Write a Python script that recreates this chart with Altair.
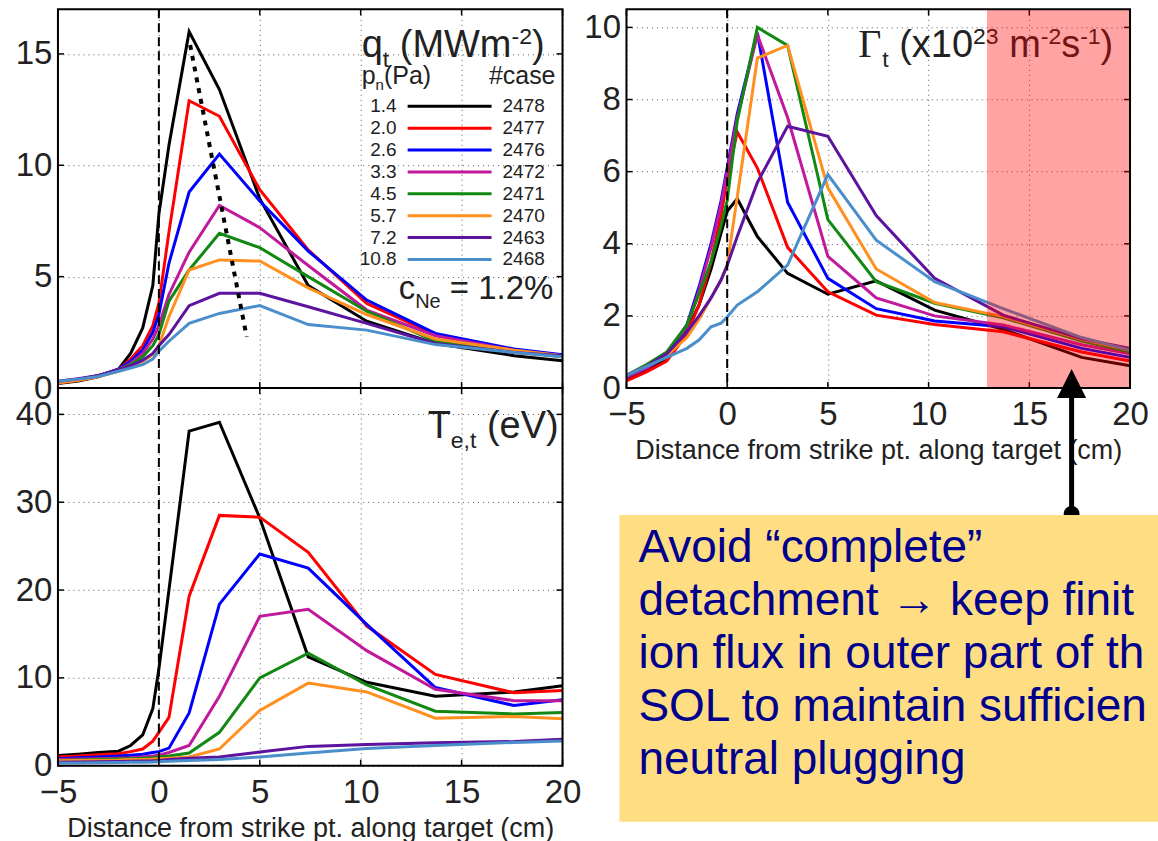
import altair as alt
import pandas as pd

# ---------------- data ----------------
x_cm = [-5, -4, -3, -2, -1.4, -0.8, -0.3, 0, 0.5, 1.5, 3, 5, 7.4, 10.3, 13.7, 17.6, 20]
pn_pa = ["1.4", "2.0", "2.6", "3.3", "4.5", "5.7", "7.2", "10.8"]
case_ids = ["2478", "2477", "2476", "2472", "2471", "2470", "2463", "2468"]
line_colors = ["#000000", "#FF0000", "#0000FF", "#C0199B", "#118811", "#FF8F1F", "#5C139E", "#4A8FCB"]

# heat flux q_t (MW m^-2)
q_2478 = [0.20, 0.32, 0.50, 0.85, 1.55, 2.7, 4.6, 7.8, 10.9, 16.0, 13.4, 8.5, 4.6, 3.0, 2.0, 1.45, 1.22]
q_2477 = [0.22, 0.35, 0.52, 0.85, 1.3, 1.9, 2.8, 3.8, 7.0, 12.9, 12.2, 8.9, 6.2, 3.8, 2.4, 1.7, 1.45]
q_2476 = [0.25, 0.38, 0.55, 0.85, 1.2, 1.7, 2.5, 3.3, 5.6, 8.8, 10.5, 8.4, 6.15, 3.95, 2.45, 1.75, 1.5]
q_2472 = [0.28, 0.40, 0.55, 0.82, 1.1, 1.55, 2.2, 2.8, 4.2, 6.1, 8.2, 7.2, 5.5, 3.5, 2.35, 1.7, 1.45]
q_2471 = [0.25, 0.38, 0.55, 0.80, 1.05, 1.4, 1.9, 2.4, 3.9, 5.3, 6.95, 6.3, 5.0, 3.45, 2.1, 1.65, 1.4]
q_2470 = [0.22, 0.35, 0.50, 0.75, 0.95, 1.2, 1.5, 1.9, 3.2, 5.3, 5.75, 5.7, 4.5, 3.3, 2.2, 1.7, 1.45]
q_2463 = [0.30, 0.42, 0.56, 0.80, 1.0, 1.25, 1.55, 1.9, 2.4, 3.7, 4.25, 4.25, 3.65, 2.9, 2.0, 1.6, 1.45]
q_2468 = [0.30, 0.40, 0.52, 0.75, 0.9, 1.05, 1.3, 1.65, 2.1, 2.9, 3.35, 3.7, 2.85, 2.6, 1.95, 1.6, 1.4]
q_peak_x = [1.55, 4.35]
q_peak_y = [15.4, 2.3]

# electron temperature T_e,t (eV)
te_2478 = [1.15, 1.3, 1.5, 1.65, 2.3, 3.5, 6.5, 11.0, 20.0, 38.1, 39.1, 28.2, 12.4, 9.5, 7.9, 8.4, 9.1]
te_2477 = [1.0, 1.1, 1.25, 1.36, 1.6, 1.9, 2.8, 3.8, 5.5, 19.3, 28.5, 28.3, 24.3, 15.9, 10.4, 8.3, 8.55]
te_2476 = [0.8, 0.9, 1.0, 1.1, 1.2, 1.3, 1.5, 1.6, 2.0, 6.0, 18.4, 24.1, 22.5, 16.1, 8.9, 6.85, 7.5]
te_2472 = [0.7, 0.75, 0.8, 0.85, 0.9, 1.0, 1.1, 1.2, 1.5, 2.3, 7.9, 17.0, 17.8, 13.1, 8.7, 7.4, 7.4]
te_2471 = [0.6, 0.65, 0.7, 0.75, 0.8, 0.85, 0.9, 1.0, 1.1, 1.45, 3.8, 10.0, 12.8, 9.2, 6.2, 5.9, 6.05]
te_2470 = [0.55, 0.6, 0.62, 0.65, 0.7, 0.72, 0.75, 0.8, 0.85, 1.0, 1.9, 6.3, 9.4, 8.4, 5.4, 5.6, 5.35]
te_2463 = [0.4, 0.42, 0.45, 0.48, 0.5, 0.53, 0.56, 0.6, 0.7, 0.85, 1.0, 1.55, 2.2, 2.4, 2.6, 2.75, 3.0]
te_2468 = [0.3, 0.32, 0.34, 0.36, 0.38, 0.4, 0.42, 0.45, 0.5, 0.6, 0.7, 1.0, 1.45, 1.95, 2.3, 2.65, 2.8]

# particle flux Gamma_t (1e23 m^-2 s^-1)
g_2478 = [0.26, 0.5, 0.8, 1.6, 2.3, 3.3, 4.3, 4.9, 5.25, 4.2, 3.18, 2.6, 2.97, 2.16, 1.63, 0.85, 0.62]
g_2477 = [0.2, 0.45, 0.75, 1.5, 2.3, 3.5, 4.8, 5.8, 7.1, 6.1, 3.9, 2.67, 2.02, 1.76, 1.56, 1.0, 0.75]
g_2476 = [0.3, 0.55, 0.9, 1.75, 2.8, 4.0, 5.2, 6.1, 7.6, 9.85, 5.15, 3.04, 2.2, 1.86, 1.7, 1.1, 0.85]
g_2472 = [0.3, 0.55, 0.9, 1.7, 2.7, 3.9, 5.1, 6.0, 7.5, 9.8, 7.5, 3.65, 2.5, 2.0, 1.75, 1.2, 0.95]
g_2471 = [0.35, 0.65, 1.0, 1.75, 2.6, 3.5, 4.5, 5.2, 7.4, 10.0, 9.5, 4.67, 2.95, 2.35, 1.95, 1.3, 1.0]
g_2470 = [0.35, 0.6, 0.9, 1.4, 1.9, 2.5, 3.0, 3.4, 5.3, 9.15, 9.5, 5.55, 3.3, 2.37, 1.98, 1.35, 1.05]
g_2463 = [0.35, 0.6, 0.95, 1.55, 2.0, 2.5, 3.0, 3.4, 4.2, 5.7, 7.26, 6.98, 4.78, 3.04, 2.02, 1.37, 1.1]
g_2468 = [0.35, 0.6, 0.85, 1.1, 1.33, 1.7, 1.8, 1.97, 2.3, 2.67, 3.41, 5.92, 4.1, 2.95, 2.2, 1.4, 1.05]

shade_x = [12.9, 20]
arrow_x = 17.1

x_ticks = [-5, 0, 5, 10, 15, 20]
q_ticks = [0, 5, 10, 15]
te_ticks = [0, 10, 20, 30, 40]
g_ticks = [0, 2, 4, 6, 8, 10]

box_lines = ["Avoid \u201ccomplete\u201d",
             "detachment \u2192 keep finite",
             "ion flux in outer part of the",
             "SOL to maintain sufficient",
             "neutral plugging"]

q_series = [q_2478, q_2477, q_2476, q_2472, q_2471, q_2470, q_2463, q_2468]
te_series = [te_2478, te_2477, te_2476, te_2472, te_2471, te_2470, te_2463, te_2468]
g_series = [g_2478, g_2477, g_2476, g_2472, g_2471, g_2470, g_2463, g_2468]

# ---------------- styling ----------------
SANS = "Liberation Sans"
SERIF = "Liberation Serif"
TXT = "#222222"
XTITLE = "Distance from strike pt. along target (cm)"
PW_L, PW_R = 505, 504
H_TOP, H_BOT, H_R, H_BOX = 379, 378, 379, 307
BOX_W = 532          # box runs to the right edge of the picture
TICK = 6
one = pd.DataFrame({"k": [0]})

WID = {'q': 556, 't': 278, ' ': 278, '(': 333, ')': 333, 'M': 833, 'W': 944, 'm': 833,
       '-': 333, '2': 556, 'p': 556, 'n': 556, 'P': 667, 'a': 556, 'c': 500, 'N': 722,
       'e': 556, '=': 584, '1': 556, '.': 278, '%': 889, 'T': 611, ',': 278, 'V': 667,
       'x': 500, '0': 556, '3': 556, 's': 500, '\u0393': 600}


def label(s, x, y, size, font=SANS, align="left", color=TXT, baseline="alphabetic", **kw):
    return alt.Chart(one).mark_text(text=s, font=font, fontSize=size, align=align,
                                    baseline=baseline, color=color, **kw).encode(
        x=alt.value(x), y=alt.value(y))


def width_of(s, size):
    return sum(WID.get(ch, 556) for ch in s) / 1000 * size


def run(pieces, x0, y0):
    out = []
    x = x0
    for s, size, dy, font in pieces:
        stripped = s.lstrip(" ")
        x += width_of(s[: len(s) - len(stripped)], size)
        out.append(label(stripped, x, y0 + dy, size, font=font))
        x += width_of(stripped, size)
    return out


def frame(w, h):
    return alt.Chart(one).mark_rect(fillOpacity=0, stroke="black", strokeWidth=2).encode(
        x=alt.value(0), x2=alt.value(w), y=alt.value(0), y2=alt.value(h))


def zero_line(h):
    return alt.Chart(one).mark_rule(color="black", strokeWidth=2, strokeDash=[9, 5]).encode(
        x=alt.datum(0), y=alt.value(0), y2=alt.value(h))


def inner_ticks(w, h, yvals):
    xs = pd.DataFrame({"x": x_ticks})
    ys = pd.DataFrame({"y": yvals})
    sty = dict(color="black", strokeWidth=1.5)
    return [
        alt.Chart(xs).mark_rule(**sty).encode(x="x:Q", y=alt.value(h), y2=alt.value(h - TICK)),
        alt.Chart(xs).mark_rule(**sty).encode(x="x:Q", y=alt.value(0), y2=alt.value(TICK)),
        alt.Chart(ys).mark_rule(**sty).encode(y="y:Q", x=alt.value(0), x2=alt.value(TICK)),
        alt.Chart(ys).mark_rule(**sty).encode(y="y:Q", x=alt.value(w), x2=alt.value(w - TICK)),
    ]


def xaxis(show):
    if show:
        return alt.Axis(values=x_ticks, title=XTITLE, format="d",
                        labelFontSize=33, titleFontSize=27, titleFontWeight="normal",
                        labelPadding=11, titlePadding=6, ticks=False, domain=False,
                        grid=True, labelFlush=False, labelOverlap=False)
    return alt.Axis(values=x_ticks, title=None, labels=False, ticks=False,
                    domain=False, grid=True)


def yaxis(vals):
    return alt.Axis(values=vals, title=None, labelFontSize=33, labelPadding=6, ticks=False,
                    domain=False, grid=True, labelOverlap=False, format="d")


def lines(series, ydom, yvals, show_x):
    out = []
    for cid, col, vals in zip(case_ids, line_colors, series):
        df = pd.DataFrame({"x": x_cm, "y": vals})
        out.append(alt.Chart(df).mark_line(color=col, strokeWidth=3).encode(
            x=alt.X("x:Q", scale=alt.Scale(domain=[-5, 20], nice=False), axis=xaxis(show_x)),
            y=alt.Y("y:Q", scale=alt.Scale(domain=ydom, nice=False), axis=yaxis(yvals))))
    return out


# ---------------- top-left: q_t ----------------
dot_df = pd.DataFrame({"x": q_peak_x, "y": q_peak_y})
dotted = alt.Chart(dot_df).mark_line(color="black", strokeWidth=4, strokeDash=[5, 6]).encode(
    x="x:Q", y="y:Q")

legend_layers = []
LEG_Y0, LEG_DY = 97, 21.9
for i, (pn, cid, col) in enumerate(zip(pn_pa, case_ids, line_colors)):
    yy = LEG_Y0 + i * LEG_DY
    legend_layers += [
        label(pn, 339, yy, 19, align="right", baseline="middle"),
        alt.Chart(one).mark_rule(color=col, strokeWidth=3).encode(
            x=alt.value(350), x2=alt.value(434), y=alt.value(yy)),
        label(cid, 445, yy, 19, baseline="middle"),
    ]

q_title = run([("q", 38, 0, SANS), ("t", 23, 10, SANS), (" (MWm", 38, 0, SANS),
               ("-2", 23, -13, SANS), (")", 38, 0, SANS)], 304, 48)
pn_head = run([("p", 25, 0, SANS), ("n", 15, 6, SANS), ("(Pa)", 25, 0, SANS)], 304, 75)
cne = run([("c", 33, 0, SANS), ("Ne", 20, 9, SANS), (" = 1.2%", 33, 0, SANS)], 341, 290)

top = alt.layer(
    *lines(q_series, [0, 17], q_ticks, False),
    dotted, zero_line(H_TOP), *inner_ticks(PW_L, H_TOP, q_ticks),
    *q_title, *pn_head, label("#case", 498, 75, 25, align="right"),
    *legend_layers, *cne, frame(PW_L, H_TOP),
).properties(width=PW_L, height=H_TOP)

# ---------------- bottom-left: T_e,t ----------------
te_title = run([("T", 38, 0, SANS), ("e,t", 23, 10, SANS), (" (eV)", 38, 0, SANS)], 370, 50)
bottom = alt.layer(
    *lines(te_series, [0, 43], te_ticks, True),
    zero_line(H_BOT), *inner_ticks(PW_L, H_BOT, te_ticks), *te_title, frame(PW_L, H_BOT),
).properties(width=PW_L, height=H_BOT)

# ---------------- right: Gamma_t ----------------
g_title = run([("\u0393", 40, 0, SERIF), ("t", 23, 10, SANS), (" (x10", 38, 0, SANS),
               ("23", 23, -13, SANS), (" m", 38, 0, SANS), ("-2", 23, -13, SANS),
               ("s", 38, 0, SANS), ("-1", 23, -13, SANS), (")", 38, 0, SANS)], 232, 48)
shade = alt.Chart(one).mark_rect(color="#FF0000", opacity=0.36).encode(
    x=alt.datum(shade_x[0]), x2=alt.datum(shade_x[1]), y=alt.value(0), y2=alt.value(H_R))
arrow_line = alt.Chart(one).mark_rule(color="black", strokeWidth=5).encode(
    x=alt.datum(arrow_x), y=alt.value(380), y2=alt.value(505))
arrow_head = alt.Chart(one).mark_point(shape="M-1,1L1,1L0,-1Z", filled=True, fill="black",
                                       stroke=None, size=841, opacity=1).encode(
    x=alt.datum(arrow_x), y=alt.value(374.5))
arrow_dot = alt.Chart(one).mark_point(shape="circle", filled=True, fill="black",
                                      size=254, opacity=1).encode(
    x=alt.datum(arrow_x), y=alt.value(505))

right = alt.layer(
    *lines(g_series, [0, 10.5], g_ticks, True),
    zero_line(H_R), *inner_ticks(PW_R, H_R, g_ticks), *g_title, shade, frame(PW_R, H_R),
    arrow_line, arrow_head, arrow_dot,
).properties(width=PW_R, height=H_R)

# ---------------- text box ----------------
box_bg = alt.Chart(one).mark_rect(color="#FFDD83").encode(
    x=alt.value(-7), x2=alt.value(BOX_W), y=alt.value(0), y2=alt.value(H_BOX))
box_text = [label(s, 12, 47 + 53 * i, 46, color="#00008C", limit=BOX_W - 12,
                  ellipsis="\u200b")
            for i, s in enumerate(box_lines)]
box = alt.layer(box_bg, *box_text).properties(width=PW_R, height=H_BOX)

left_col = alt.vconcat(top, bottom, spacing=0, bounds="flush")
right_col = alt.vconcat(right, box, spacing=127, bounds="flush")

chart = alt.hconcat(left_col, right_col, spacing=2).properties(
    padding={"left": 15, "top": 8, "right": 0, "bottom": 0},
    background="white",
).configure_view(stroke=None).configure_axis(
    labelFont=SANS, titleFont=SANS, labelColor=TXT, titleColor=TXT,
    gridColor="#444444", gridDash=[1, 4], gridWidth=1, gridOpacity=0.9,
)

chart.save("out.html", embed_options={"renderer": "svg", "actions": False})
